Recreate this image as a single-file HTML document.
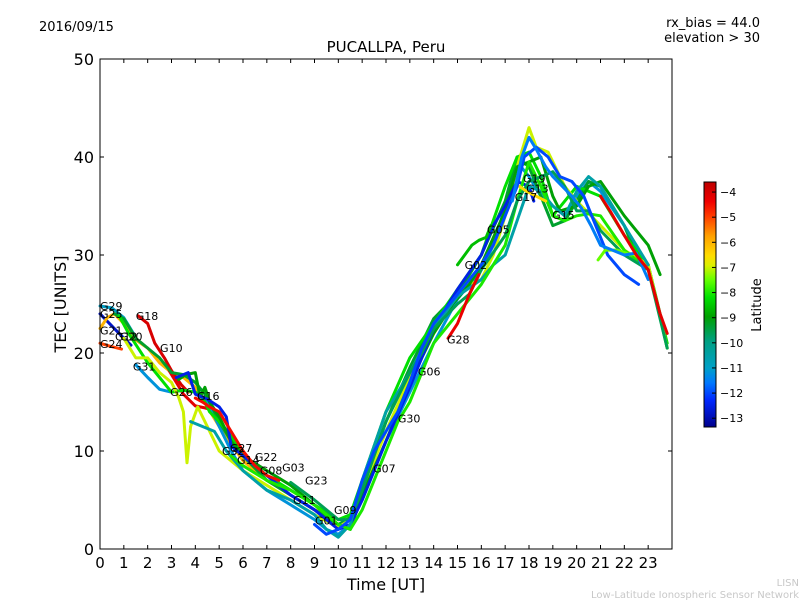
<!DOCTYPE html>
<html><head><meta charset="utf-8">
<style>
html,body{margin:0;padding:0;background:#fff;}
svg{display:block;font-family:"DejaVu Sans","Liberation Sans",sans-serif;}
</style></head>
<body>
<svg id="chart" width="800" height="600" viewBox="0 0 800 600">
  <text x="39" y="31" font-size="13">2016/09/15</text>
  <text x="760" y="27" font-size="13" text-anchor="end">rx_bias = 44.0</text>
  <text x="760" y="42" font-size="13" text-anchor="end">elevation &gt; 30</text>
  <text x="386" y="52" font-size="15" text-anchor="middle">PUCALLPA, Peru</text>
  <text x="66" y="304" font-size="16" text-anchor="middle" transform="rotate(-90 66 304)">TEC [UNITS]</text>
  <text x="386" y="590" font-size="16" text-anchor="middle">Time [UT]</text>
  <g id="tracks"></g>
  <g id="labels"></g>
  <rect x="100" y="59" width="572" height="490" fill="none" stroke="#000" stroke-width="1"/>
  <g id="xaxis"></g>
  <g id="yaxis"></g>
  <defs>
    <linearGradient id="jet" x1="0" y1="1" x2="0" y2="0"></linearGradient>
  </defs>
  <rect x="704" y="182" width="12" height="245" fill="url(#jet)" stroke="#000" stroke-width="1"/>
  <g id="cbticks"></g>
  <text x="761" y="305" font-size="13" text-anchor="middle" transform="rotate(-90 761 305)">Latitude</text>
  <text x="799" y="586" font-size="10" fill="#c8c8c8" text-anchor="end">LISN</text>
  <text x="799" y="598" font-size="10" fill="#c8c8c8" text-anchor="end">Low-Latitude Ionospheric Sensor Network</text>
</svg>
<script>
const xTicks = [0,1,2,3,4,5,6,7,8,9,10,11,12,13,14,15,16,17,18,19,20,21,22,23];
const yTicks = [0,10,20,30,40,50];
const cbTicks = [-4,-5,-6,-7,-8,-9,-10,-11,-12,-13];
const trackLat = [-11,-12.8,-6,-5,-4,-4.2,-11.2,-9.3,-8.2,-7,-9,-12.5,-4.5,-10.5,-8,-9.6,-6.5,-12,-7.5,-11.5,-4.3,-8.6,-4.2];
const trackTimes = [
 [0,0.5,1,1.4],
 [0,0.4,0.8,1.3],
 [0,0.3,0.6,1,1.4,2,2.5,3,3.5,4,5,6,7,8,9,10],
 [0,0.4,0.9],
 [1.6,2,2.3,2.7,3,3.4,3.7],
 [2.9,3.2,3.5,4,4.4,4.7],
 [1.5,2,2.5,3,3.5,4,4.5,5,5.5,6,7,8,9,9.5,10,10.5,11,11.5,12,13,14,15,16,16.5,17,17.5,18,18.5,19,19.5,20,20.5,21,22,22.5],
 [0.6,1,1.5,2,2.5,3,3.5,4,4.5,5,5.5,6,7,8,9,10,10.5,11,12,13,14,15,16,17,17.5,18,18.5,19,19.5,20,20.5,21,22,22.5,23,23.8],
 [0.8,1.2,1.6,2,2.5,3,3.5,4,4.3,4.6,5,5.5,6,7,8,9,10,10.5,11,12,13,14,15,16,17,17.5,18,18.5,19,19.5,20,21,22,23,23.8],
 [1,1.5,2,2.5,3,3.3,3.5,3.65,3.8,4.1,4.5,5,5.5,6,7,8,9,10,10.5,11,12,13,14,15,15.5,16,16.5,17,17.5,18,18.3,18.8,19.5,20,21,22,23,23.8],
 [3.3,3.6,4,4.2,4.4,4.6,5,5.5,6,7,8,9,10,10.5,11,12,13,14,14.8,15.5,16,17,17.5,18,18.5,19,19.3,20,20.5,21,22,23,23.5],
 [3.2,3.7,4,4.5,5,5.3,5.5,6,7,8,9,9.5,10,10.5,11,12,13,14,15,16,16.5,17,17.5,18,18.2],
 [4,4.3,4.6,5,5.5,6,6.5,7,7.5],
 [3.8,4.3,4.8,5.3,6,7,8,9,9.5,10,10.5,11,12,13,14,15,16,16.5,17,17.5,18,18.5,19,19.5,20,20.5,21,22,22.5,23],
 [5.5,6,7,8,9,9.5,10,10.5,11,12,12.5,13,13.5,14,15,16,17,17.5,18,18.5,19,19.5,20,20.5,21,22,23,23.8],
 [8,9,9.5,10,10.5,11,11.5,12,12.5,13,13.5,14,15,15.5,16,17,17.5,18,19,19.5,20,20.5,21,22,23,23.8],
 [17.6,17.9,18.3,18.7],
 [9,9.5,10,10.5,11,11.5,12,12.5,13,13.5,14,15,16,16.5,17,17.5,17.8,18.3,18.8,19.3,19.8,20.3,20.8,21.3,22,22.6],
 [20.9,21.2,21.7,22.3],
 [17.3,17.7,18,18.3,18.7,19,19.4,19.8,20.2,20.6,21,21.5,22,22.5,23],
 [14.6,15,15.5,15.9],
 [15,15.3,15.6,15.9,16.2,16.4],
 [21,21.4,22,22.5,23,23.5,23.8]
];
const trackTec = [
 [24.8,24.6,23.6,22],
 [24,23,22,20.8],
 [22.5,23.6,24,23,21.5,20.5,19,18,17.5,16.5,12.5,9,7,5.5,4,3],
 [21,20.7,20.4],
 [23.8,23,21,19.5,18.2,16.8,16],
 [18.2,17,15.8,14.6,14.4,14.2],
 [18.8,17.5,16.3,16,16.2,16,15,12.5,10,8,6,4.5,3,2,1.5,2.5,5,8,11,16,21,25.5,28.5,31,35,39.5,38,36,35,34,36,37.5,36.5,33,30.5],
 [24,23.5,21.5,20.5,19.5,18,17.8,17,15.5,13,11,9.5,7,5.5,4,2.5,3.2,6.5,13,18.5,23.5,26,30,35.5,40,39,36,33,33.5,35.5,37.5,37,33,30,29,20.5],
 [23.8,22,20.5,19,17.5,16,16.2,16,15.5,14,13,11.5,9.5,7.5,6,4.5,3,3.5,7,14,19.5,23,26.5,30,37,40,40.5,38,34,35.5,37,36,32,29,21],
 [21.5,19.5,19.5,18,17,15.5,14,8.8,12.5,14.5,12.5,10,9,8,6.5,5,3.5,2.2,3,6,12,17.5,22,26,27,27.5,30,34,39,43,41,40.5,37,35.5,33,30.5,29,20.5],
 [17.3,17.8,18,15.5,16.5,15,13.5,11,9.5,8,6.5,4.5,2.5,2,5.5,11,17,22,25,27,29,34.5,39,39.5,40,36,34.5,35,37,37.5,34,31,28,20.5],
 [17.5,18,15.8,15.3,14.5,13.5,10.5,9.5,7.5,5.5,4,3,2,2.5,5,11,16.5,22.5,26.5,30,33,35,37.5,37,35.5],
 [15.4,15,14.5,14,12,10,8.5,7.5,7],
 [13,12.5,12,10,8,6,5,3.5,2,1.2,2.5,7,14,18,22.5,25.8,27.5,29,30,33.5,37,36.5,35,34,36.5,38,37,33,31,29],
 [9.5,8.5,7,6,4.5,3.5,2.5,2,4,10,13,15,18,21,24,27,31,35.5,39.5,37,34,33.5,34,34.2,34,30.5,28.5],
 [6.8,5,4,3,3,6,9.5,13,15.5,18,20,22.5,25,26,28.5,32,35.5,37.5,38.5,37,34.5,34.5,32.5,30,28.5,20.5],
 [37,36.5,36,35.5],
 [2.5,1.5,2,3,7,10,12,14,17,20.5,23,26,29,31,34,37,40,41,40,38,37.5,36,33,30,28,27],
 [29.5,30.5,30.5,30],
 [35.5,40,42,40.8,39,38,37,36,34.8,33,31,30.5,30,30.2,27.5],
 [21.5,23,26,28],
 [29,30,31,31.5,31.8,33],
 [36,34.5,32,30,28.5,24,22]
];
const labelNames = ["G29","G25","G21","G12","G20","G24","G18","G10","G31","G26","G16","G32","G27","G14","G22","G08","G03","G23","G11","G09","G01","G07","G30","G06","G28","G02","G05","G19","G13","G17","G15"];
const labelHours = [0,0,0,0.63,0.84,0,1.5,2.52,1.38,2.94,4.07,5.12,5.45,5.75,6.5,6.71,7.64,8.6,8.1,9.82,9.02,11.46,12.5,13.34,14.56,15.3,16.24,17.75,17.88,17.4,18.97];
const labelTec = [24.8,24,22.3,21.7,21.7,20.9,23.8,20.5,18.6,16,15.6,10,10.3,9.1,9.4,8,8.3,7,5,4,2.9,8.2,13.3,18.1,21.4,29,32.6,37.8,36.8,35.9,34.1];

const NS='http://www.w3.org/2000/svg';
const X0=100,X1=672,Y0=549,Y1=59;
const xs=h=>X0+(h/24)*(X1-X0);
const ys=v=>Y0-(v/50)*(Y0-Y1);
const LATMIN=-13.35,LATMAX=-3.6;
const CMAP=[[0,[0,0,140]],[0.11,[0,40,255]],[0.18,[0,120,255]],[0.24,[0,160,200]],[0.35,[0,160,130]],[0.45,[0,160,0]],[0.53,[0,225,0]],[0.6,[100,255,0]],[0.66,[220,240,0]],[0.7,[255,220,0]],[0.78,[255,160,0]],[0.86,[255,60,0]],[0.92,[240,0,0]],[1,[190,0,0]]];
function cmap(t){
  t=Math.max(0,Math.min(1,t));
  for(let i=1;i<CMAP.length;i++){
    if(t<=CMAP[i][0]){
      const a=CMAP[i-1],b=CMAP[i],f=(t-a[0])/(b[0]-a[0]);
      const c=a[1].map((v,k)=>Math.round(v+(b[1][k]-v)*f));
      return `rgb(${c[0]},${c[1]},${c[2]})`;
    }
  }
  return 'rgb(190,0,0)';
}
const mk=(tag,attrs,parent)=>{const e=document.createElementNS(NS,tag);for(const k in attrs)e.setAttribute(k,attrs[k]);parent.appendChild(e);return e;};

const grad=document.getElementById('jet');
CMAP.forEach(s=>{mk('stop',{offset:s[0],'stop-color':`rgb(${s[1].join(',')})`},grad);});

const tg=document.getElementById('tracks');
trackTimes.forEach((ts,i)=>{
  const d=ts.map((t,j)=>(j?'L':'M')+xs(t).toFixed(1)+','+ys(trackTec[i][j]).toFixed(1)).join(' ');
  const p=mk('path',{d:d,fill:'none',stroke:cmap((trackLat[i]-LATMIN)/(LATMAX-LATMIN)),'stroke-width':3,'stroke-linejoin':'round','stroke-linecap':'round'},tg);
  
  
});
const lg=document.getElementById('labels');
labelNames.forEach((n,i)=>{
  const t=mk('text',{x:xs(labelHours[i]),y:ys(labelTec[i])+4,'font-size':11},lg);
  t.textContent=n;
  
  
});
const xg=document.getElementById('xaxis');
xTicks.forEach(v=>{
  const x=xs(v);
  mk('line',{x1:x,x2:x,y1:Y0,y2:Y0-4,stroke:'#000'},xg);
  mk('line',{x1:x,x2:x,y1:Y1,y2:Y1+4,stroke:'#000'},xg);
  const t=mk('text',{x:x,y:568,'font-size':15,'text-anchor':'middle'},xg);
  t.textContent=v;
  
  
});
const yg=document.getElementById('yaxis');
yTicks.forEach(v=>{
  const y=ys(v);
  mk('line',{x1:X0,x2:X0+4,y1:y,y2:y,stroke:'#000'},yg);
  mk('line',{x1:X1,x2:X1-4,y1:y,y2:y,stroke:'#000'},yg);
  const t=mk('text',{x:94,y:y+6,'font-size':16,'text-anchor':'end'},yg);
  t.textContent=v;
  
  
});
const cg=document.getElementById('cbticks');
const CBT=182,CBB=427;
cbTicks.forEach(v=>{
  const y=CBB-(v-LATMIN)/(LATMAX-LATMIN)*(CBB-CBT);
  mk('line',{x1:712,x2:716,y1:y,y2:y,stroke:'#000'},cg);
  const t=mk('text',{x:720,y:y+4,'font-size':11},cg);
  t.textContent='\u2212'+Math.abs(v);
  
  
});
</script>
</body></html>
